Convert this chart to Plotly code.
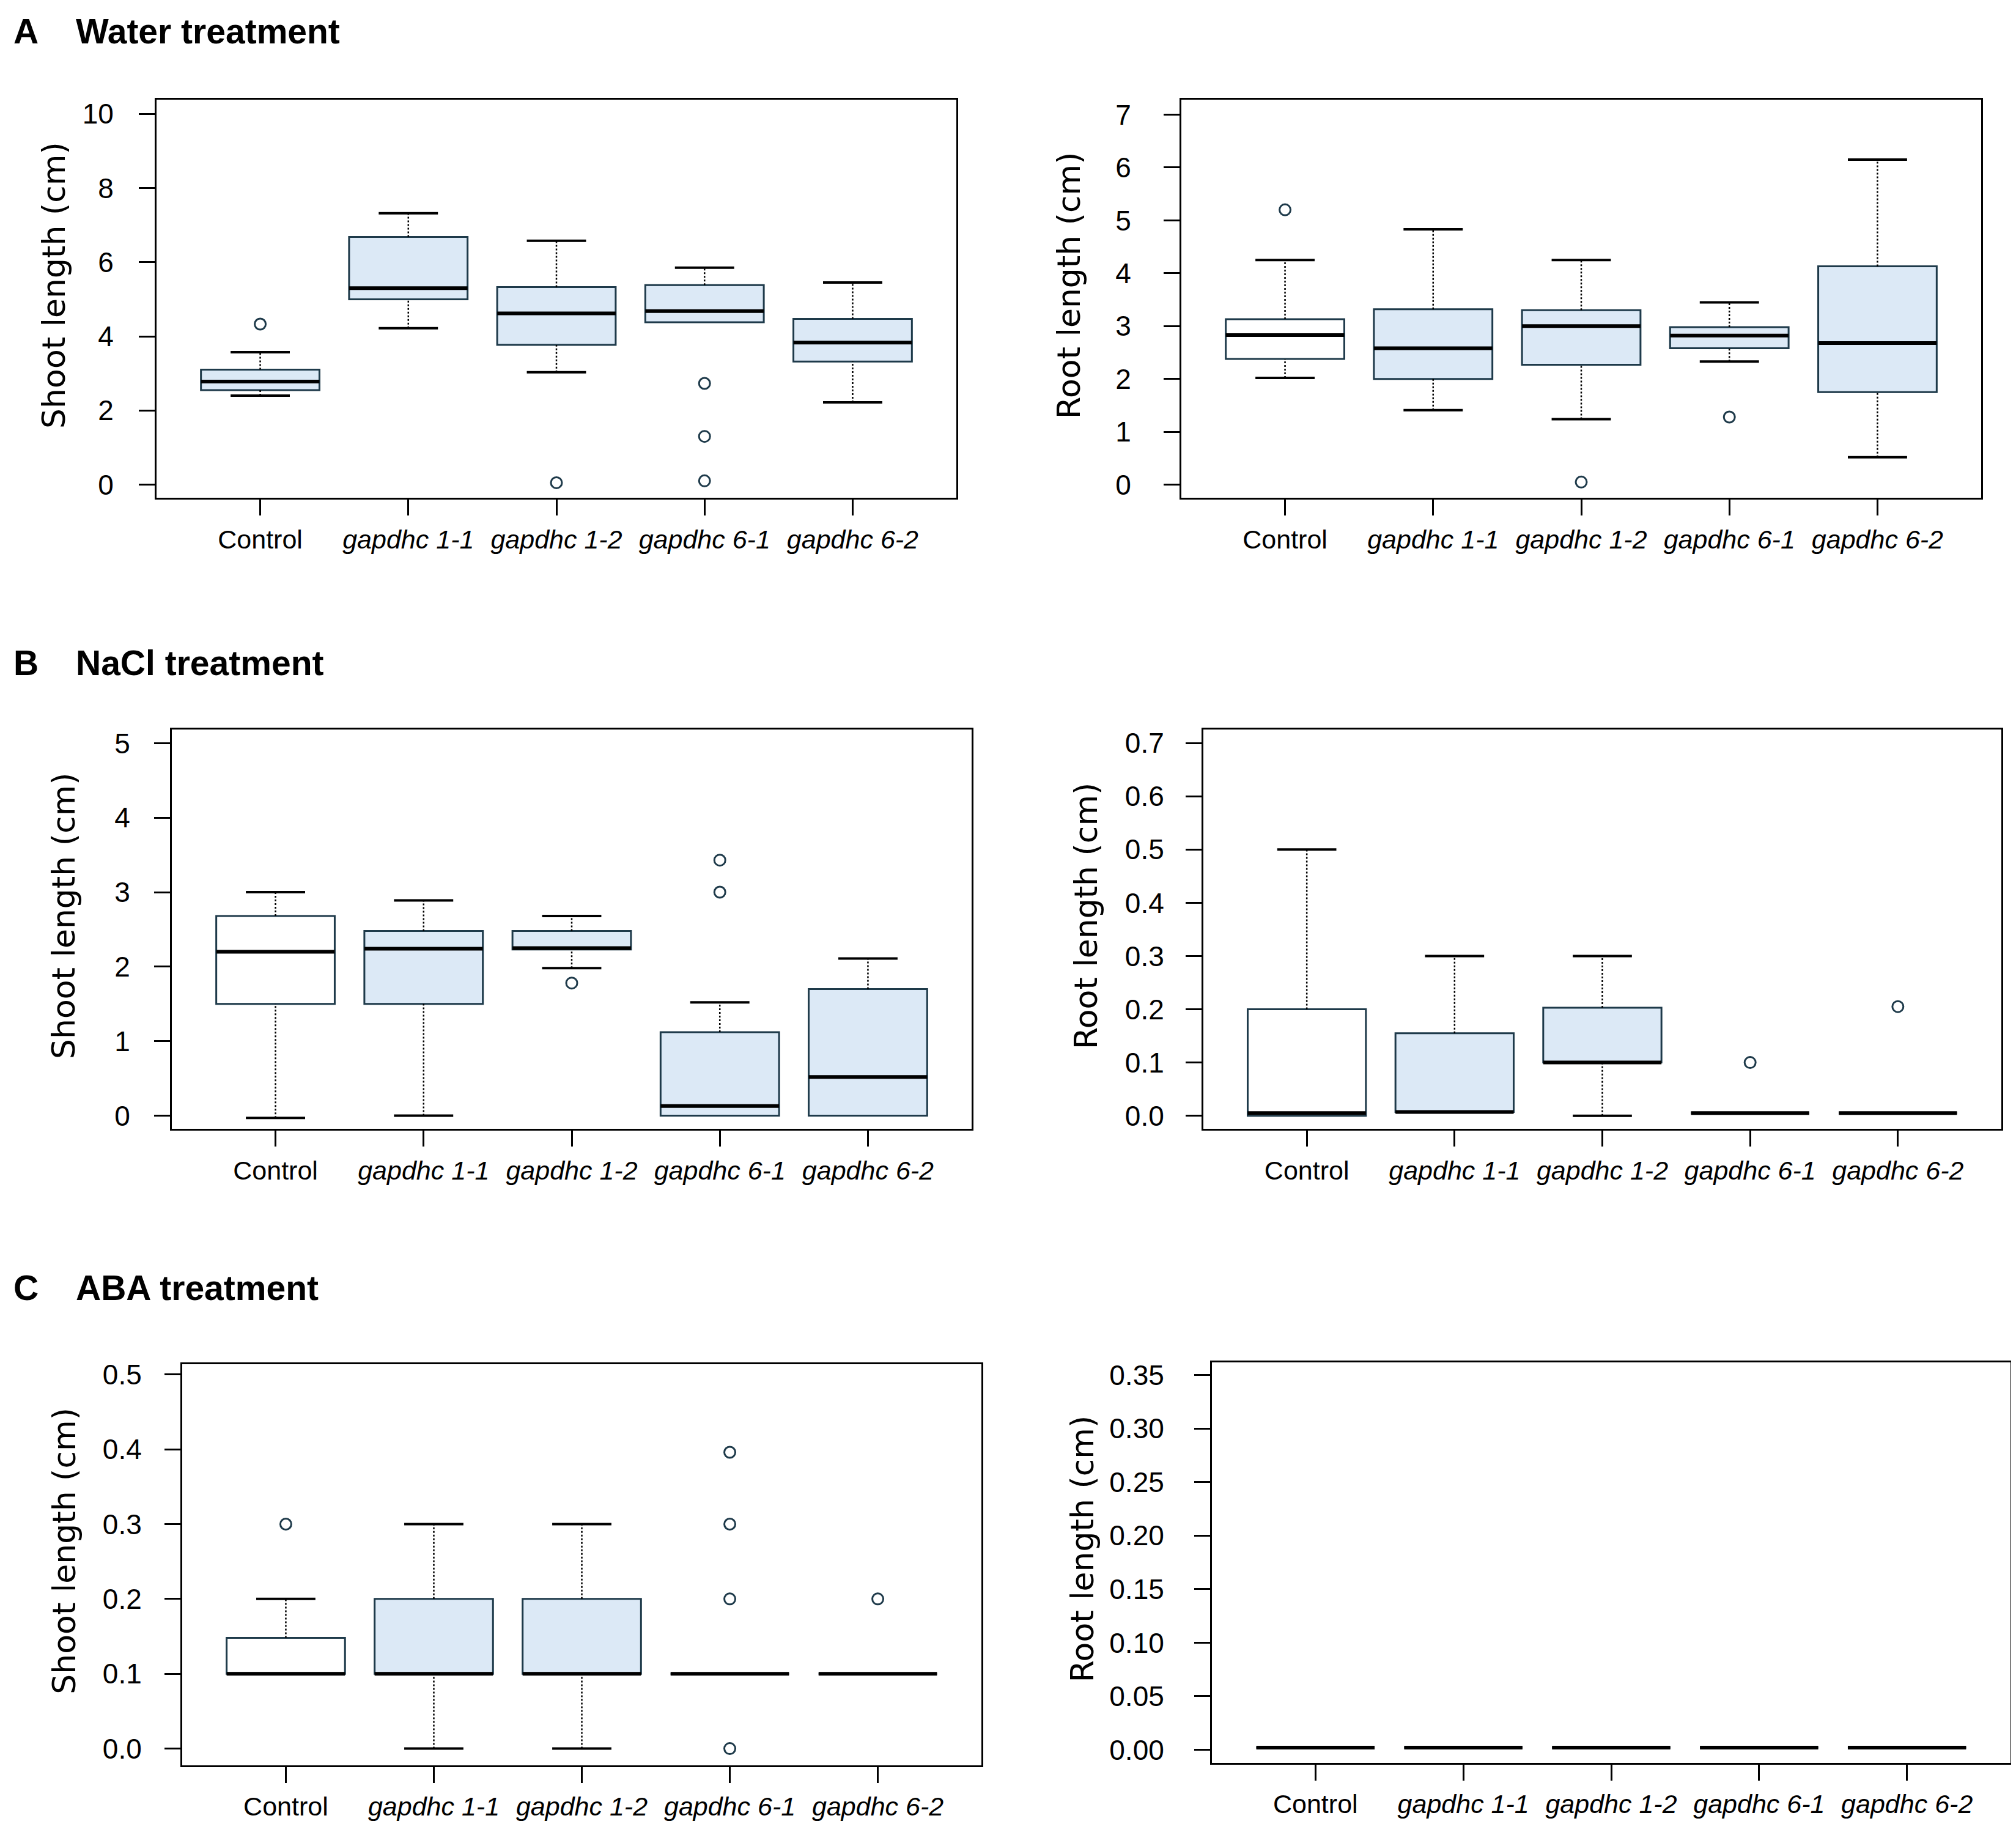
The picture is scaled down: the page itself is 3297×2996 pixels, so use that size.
import plotly.graph_objects as go

# group labels along the x axis
groups = ["Control", "gapdhc 1-1", "gapdhc 1-2", "gapdhc 6-1", "gapdhc 6-2"]

# ---- A: water treatment ----
water_shoot_q1 = [2.55, 5.0, 3.77, 4.38, 3.32]
water_shoot_med = [2.78, 5.3, 4.62, 4.68, 3.83]
water_shoot_q3 = [3.1, 6.68, 5.33, 5.38, 4.47]
water_shoot_lo = [2.4, 4.22, 3.03, 4.38, 2.22]
water_shoot_hi = [3.57, 7.32, 6.58, 5.85, 5.45]
water_shoot_out = [[4.33], [], [0.05], [2.73, 1.3, 0.1], []]

water_root_q1 = [2.38, 2.0, 2.27, 2.58, 1.75]
water_root_med = [2.83, 2.58, 3.0, 2.82, 2.68]
water_root_q3 = [3.13, 3.32, 3.3, 2.98, 4.13]
water_root_lo = [2.02, 1.41, 1.24, 2.33, 0.52]
water_root_hi = [4.25, 4.83, 4.25, 3.45, 6.15]
water_root_out = [[5.2], [], [0.05], [1.28], []]

# ---- B: NaCl treatment ----
nacl_shoot_q1 = [1.5, 1.5, 2.23, 0.0, 0.0]
nacl_shoot_med = [2.2, 2.24, 2.25, 0.13, 0.52]
nacl_shoot_q3 = [2.68, 2.48, 2.48, 1.12, 1.7]
nacl_shoot_lo = [-0.03, 0.0, 1.98, 0.0, 0.0]
nacl_shoot_hi = [3.0, 2.89, 2.68, 1.52, 2.11]
nacl_shoot_out = [[], [], [1.78], [3.0, 3.43], []]

nacl_root_q1 = [0.0, 0.007, 0.1, 0.005, 0.005]
nacl_root_med = [0.005, 0.007, 0.1, 0.005, 0.005]
nacl_root_q3 = [0.2, 0.155, 0.203, 0.005, 0.005]
nacl_root_lo = [0.0, 0.007, 0.0, 0.005, 0.005]
nacl_root_hi = [0.5, 0.3, 0.3, 0.005, 0.005]
nacl_root_out = [[], [], [], [0.1], [0.205]]

# ---- C: ABA treatment ----
aba_shoot_q1 = [0.1, 0.1, 0.1, 0.1, 0.1]
aba_shoot_med = [0.1, 0.1, 0.1, 0.1, 0.1]
aba_shoot_q3 = [0.148, 0.2, 0.2, 0.1, 0.1]
aba_shoot_lo = [0.1, 0.0, 0.0, 0.1, 0.1]
aba_shoot_hi = [0.2, 0.3, 0.3, 0.1, 0.1]
aba_shoot_out = [[0.3], [], [], [0.396, 0.3, 0.2, 0.0], [0.2]]

aba_root_q1 = [0.002, 0.002, 0.002, 0.002, 0.002]
aba_root_med = [0.002, 0.002, 0.002, 0.002, 0.002]
aba_root_q3 = [0.002, 0.002, 0.002, 0.002, 0.002]
aba_root_lo = [0.002, 0.002, 0.002, 0.002, 0.002]
aba_root_hi = [0.002, 0.002, 0.002, 0.002, 0.002]
aba_root_out = [[], [], [], [], []]

W, H = 3297, 2996
BLUE = "#dce9f6"
EDGE = "#1e3a4a"
YTICK_FONT = dict(family="Liberation Sans, Arial, sans-serif", size=46, color="black")
XTICK_FONT = dict(family="Liberation Sans, Arial, sans-serif", size=43, color="black")
TITLE_FONT = dict(family="DejaVu Sans, sans-serif", size=52, color="black")

# panel setup: stats, y title, pixel frame (l, r, t, b), y range, ticks, control box white?
panels = [
    dict(stats=(water_shoot_q1, water_shoot_med, water_shoot_q3, water_shoot_lo, water_shoot_hi, water_shoot_out),
         title="Shoot length (cm)", frame=(248, 1556, 147, 801), yrange=[-0.36, 10.38],
         ticks=[0, 2, 4, 6, 8, 10], fmt="d", white=False, title_x=80, standoff=32),
    dict(stats=(water_root_q1, water_root_med, water_root_q3, water_root_lo, water_root_hi, water_root_out),
         title="Root length (cm)", frame=(1924, 3232, 147, 801), yrange=[-0.25, 7.28],
         ticks=[0, 1, 2, 3, 4, 5, 6, 7], fmt="d", white=True, title_x=1740, standoff=44),
    dict(stats=(nacl_shoot_q1, nacl_shoot_med, nacl_shoot_q3, nacl_shoot_lo, nacl_shoot_hi, nacl_shoot_out),
         title="Shoot length (cm)", frame=(273, 1581, 1182, 1838), yrange=[-0.18, 5.18],
         ticks=[0, 1, 2, 3, 4, 5], fmt="d", white=True, title_x=96, standoff=30),
    dict(stats=(nacl_root_q1, nacl_root_med, nacl_root_q3, nacl_root_lo, nacl_root_hi, nacl_root_out),
         title="Root length (cm)", frame=(1960, 3265, 1182, 1838), yrange=[-0.025, 0.725],
         ticks=[0, 0.1, 0.2, 0.3, 0.4, 0.5, 0.6, 0.7], fmt=".1f", white=True, title_x=1768, standoff=26),
    dict(stats=(aba_shoot_q1, aba_shoot_med, aba_shoot_q3, aba_shoot_lo, aba_shoot_hi, aba_shoot_out),
         title="Shoot length (cm)", frame=(290, 1597, 2224, 2883), yrange=[-0.022, 0.514],
         ticks=[0, 0.1, 0.2, 0.3, 0.4, 0.5], fmt=".1f", white=True, title_x=97, standoff=28),
    dict(stats=(aba_root_q1, aba_root_med, aba_root_q3, aba_root_lo, aba_root_hi, aba_root_out),
         title="Root length (cm)", frame=(1974, 3280, 2221, 2879), yrange=[-0.012, 0.362],
         ticks=[0, 0.05, 0.1, 0.15, 0.2, 0.25, 0.3, 0.35], fmt=".2f", white=False, title_x=1762, standoff=40),
]

headers = [("A", "Water treatment", 34), ("B", "NaCl treatment", 1072), ("C", "ABA treatment", 2099)]

positions = list(range(1, len(groups) + 1))
ticktext = [g if g == "Control" else "<i>" + g + "</i>" for g in groups]

fig = go.Figure()
annotations = []

for k, p in enumerate(panels):
    q1, med, q3, lo, hi, out = p["stats"]
    xa = "x" if k == 0 else "x%d" % (k + 1)
    ya = "y" if k == 0 else "y%d" % (k + 1)

    # boxes
    for i, pos in enumerate(positions):
        fill = "white" if (i == 0 and p["white"]) else BLUE
        fig.add_trace(go.Box(
            x=[pos], q1=[q1[i]], median=[med[i]], q3=[q3[i]],
            lowerfence=[q1[i]], upperfence=[q3[i]],
            width=0.8, whiskerwidth=0, fillcolor=fill,
            line=dict(color=EDGE, width=3), boxpoints=False,
            hoverinfo="skip", showlegend=False, xaxis=xa, yaxis=ya,
        ))

    # dotted whiskers and solid caps
    wx, wy, cx, cy = [], [], [], []
    for i, pos in enumerate(positions):
        if hi[i] > q3[i]:
            wx += [pos, pos, None]
            wy += [q3[i], hi[i], None]
            cx += [pos - 0.2, pos + 0.2, None]
            cy += [hi[i], hi[i], None]
        if lo[i] < q1[i]:
            wx += [pos, pos, None]
            wy += [lo[i], q1[i], None]
            cx += [pos - 0.2, pos + 0.2, None]
            cy += [lo[i], lo[i], None]
    fig.add_trace(go.Scatter(x=wx, y=wy, mode="lines", line=dict(color="black", width=2.5, dash="dot"),
                             hoverinfo="skip", showlegend=False, xaxis=xa, yaxis=ya))
    fig.add_trace(go.Scatter(x=cx, y=cy, mode="lines", line=dict(color="black", width=4),
                             hoverinfo="skip", showlegend=False, xaxis=xa, yaxis=ya))

    # thick medians
    mx, my = [], []
    for i, pos in enumerate(positions):
        mx += [pos - 0.4, pos + 0.4, None]
        my += [med[i], med[i], None]
    fig.add_trace(go.Scatter(x=mx, y=my, mode="lines", line=dict(color="black", width=6),
                             hoverinfo="skip", showlegend=False, xaxis=xa, yaxis=ya))

    # outliers
    ox, oy = [], []
    for i, pos in enumerate(positions):
        ox += [pos] * len(out[i])
        oy += out[i]
    fig.add_trace(go.Scatter(x=ox, y=oy, mode="markers",
                             marker=dict(symbol="circle-open", size=18, color=EDGE, line=dict(width=3, color=EDGE)),
                             hoverinfo="skip", showlegend=False, xaxis=xa, yaxis=ya))

    l, r, t, b = p["frame"]
    axis_common = dict(showline=True, linecolor="black", linewidth=3, mirror=True,
                       ticks="outside", ticklen=26, tickwidth=3, tickcolor="black",
                       showgrid=False, zeroline=False)
    fig.update_layout({
        "xaxis" if k == 0 else "xaxis%d" % (k + 1): dict(
            axis_common, domain=[l / W, r / W], anchor=ya, range=[0.3, 5.7], tickfont=XTICK_FONT,
            tickmode="array", tickvals=positions, ticktext=ticktext, ticklabelstandoff=2,
        ),
        "yaxis" if k == 0 else "yaxis%d" % (k + 1): dict(
            axis_common, domain=[1 - b / H, 1 - t / H], anchor=xa, range=p["yrange"], tickfont=YTICK_FONT,
            tickmode="array", tickvals=p["ticks"], tickformat=p["fmt"], ticklabelstandoff=p["standoff"],
        ),
    })

    annotations.append(dict(
        text=p["title"], textangle=-90, xref="paper", yref="paper",
        x=p["title_x"] / W, y=1 - ((t + b) / 2 - 22) / H, xanchor="center", yanchor="middle",
        showarrow=False, font=TITLE_FONT,
    ))

for letter, label, yc in headers:
    hfont = dict(family="Liberation Sans, Arial, sans-serif", size=57, color="black", weight="bold")
    annotations.append(dict(text="<b>%s</b>" % letter, xref="paper", yref="paper", x=12 / W, y=1 - yc / H,
                            xanchor="left", yanchor="middle", showarrow=False, font=hfont))
    annotations.append(dict(text="<b>%s</b>" % label, xref="paper", yref="paper", x=114 / W, y=1 - yc / H,
                            xanchor="left", yanchor="middle", showarrow=False, font=hfont))

fig.update_layout(
    width=W, height=H,
    margin=dict(l=0, r=0, t=0, b=0),
    paper_bgcolor="white", plot_bgcolor="white",
    showlegend=False, boxmode="overlay",
    annotations=annotations,
)

fig.write_html("out.html")
